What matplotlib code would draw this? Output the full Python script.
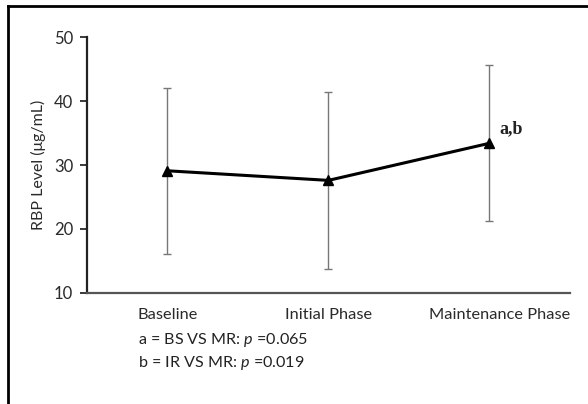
import numpy as np
import matplotlib.pyplot as plt
import matplotlib.transforms as mtransforms
from matplotlib.lines import Line2D

phases = ['Baseline', 'Initial Phase', 'Maintenance Phase']
rbp_mean = [29.1, 27.6, 33.4]
rbp_sd = [13.0, 13.8, 12.2]
notes = ['a = BS VS MR: $p$ =0.065', 'b = IR VS MR: $p$ =0.019']

plt.rcParams['font.family'] = ['Lato', 'DejaVu Sans']
plt.rcParams['mathtext.fontset'] = 'custom'
plt.rcParams['mathtext.it'] = 'Lato:italic'

fig = plt.figure(figsize=(5.88, 4.04), dpi=100)
ax = fig.add_axes([0.148, 0.275, 0.821, 0.633])

x = np.arange(len(phases)) + 0.5
ax.errorbar(x, rbp_mean, yerr=rbp_sd, color='black', lw=2.2, marker='^', ms=7,
            ecolor='#777777', elinewidth=1.0, capsize=3, capthick=1.0)
ax.text(x[2] + 0.06, rbp_mean[2] + 1.0, 'a,b', family='Liberation Serif',
        fontsize=13, fontweight='bold', color='#222222', va='bottom')

ax.set_xlim(0, 3)
ax.set_ylim(10, 50)
ax.set_yticks([10, 20, 30, 40, 50])
ax.set_xticks(x)
ax.set_xticklabels(phases, fontsize=11.8, color='#2a2a2a')
ax.tick_params(axis='x', length=0, pad=11)
ax.tick_params(axis='y', length=5, width=1.3, labelsize=12, colors='#2a2a2a', pad=5)
ax.set_ylabel('RBP Level (\u03bcg/mL)', fontsize=11.5, color='#2a2a2a', labelpad=6)

# last category label sits a bit to the right in the original
lbl = ax.get_xticklabels()[2]
lbl.set_transform(lbl.get_transform() + mtransforms.ScaledTranslation(0.1, 0, fig.dpi_scale_trans))

for s in ['top', 'right']:
    ax.spines[s].set_visible(False)
ax.spines['left'].set_linewidth(1.6)
ax.spines['bottom'].set_linewidth(1.6)
ax.spines['left'].set_color('#222222')
ax.spines['bottom'].set_color('#555555')

fig.text(138 / 588, 1 - 340 / 404, notes[0], fontsize=11.6, color='#222222', va='center')
fig.text(138 / 588, 1 - 363 / 404, notes[1], fontsize=11.6, color='#222222', va='center')

# outer frame (left and top edges only)
fig.add_artist(Line2D([7.5 / 588, 7.5 / 588], [0, 1 - 6 / 404], transform=fig.transFigure,
                      color='black', lw=2))
fig.add_artist(Line2D([7.5 / 588, 1], [1 - 6 / 404, 1 - 6 / 404], transform=fig.transFigure,
                      color='black', lw=2))

fig.savefig('out.png', dpi=100)
